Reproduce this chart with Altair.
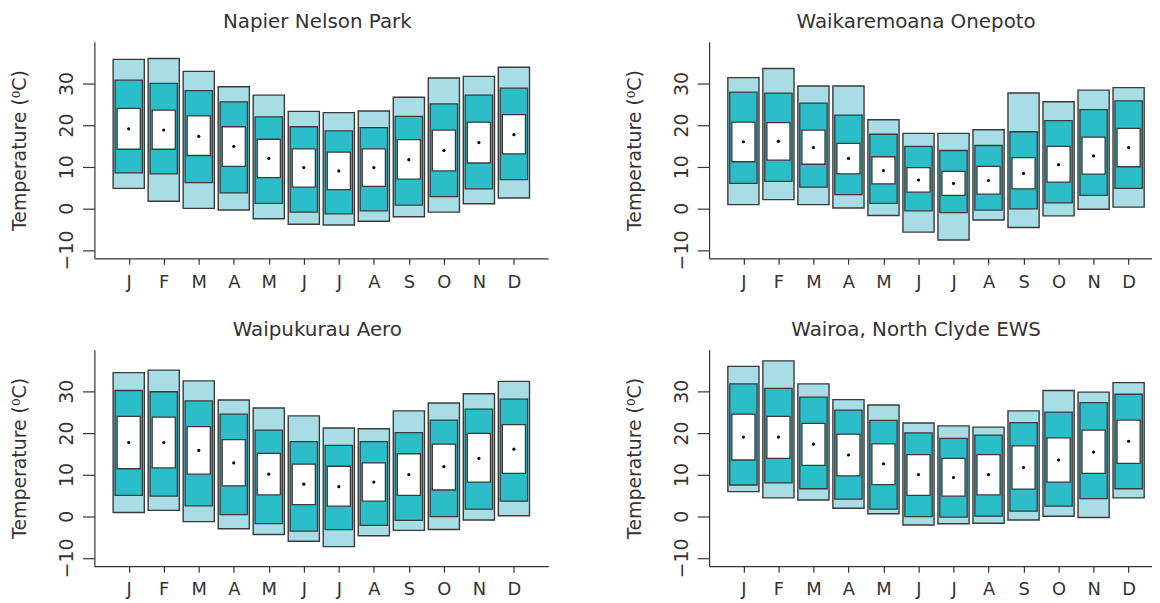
import altair as alt
import pandas as pd

MONTHS = ["J", "F", "M", "A", "M", "J", "J", "A", "S", "O", "N", "D"]
MONTH_POS = list(range(1, 13))
Y_TICKS = [-10, 0, 10, 20, 30]
Y_TITLE = "Temperature (\u2070C)"

# Napier Nelson Park
napier_max = [35.8, 36.0, 32.9, 29.2, 27.2, 23.3, 23.0, 23.4, 26.7, 31.3, 31.7, 33.9]
napier_min = [4.8, 1.7, 0.0, -0.4, -2.5, -3.8, -4.0, -3.1, -2.0, -0.9, 1.1, 2.5]
napier_phi = [30.8, 30.0, 28.3, 25.6, 22.0, 19.6, 18.6, 19.4, 22.1, 25.1, 27.2, 28.9]
napier_plo = [8.5, 8.3, 6.2, 3.7, 1.2, -0.9, -1.3, -0.6, 0.8, 2.8, 4.7, 6.9]
napier_qhi = [24.0, 23.6, 22.2, 19.6, 16.6, 14.3, 13.5, 14.3, 16.5, 18.8, 20.7, 22.5]
napier_qlo = [14.2, 14.2, 12.7, 10.1, 7.4, 5.1, 4.5, 5.3, 7.0, 9.0, 10.9, 13.1]
napier_mean = [19.1, 18.8, 17.3, 14.9, 12.0, 9.8, 9.0, 9.8, 11.7, 13.9, 15.8, 17.7]

# Waikaremoana Onepoto
waika_max = [31.4, 33.6, 29.4, 29.4, 21.3, 18.0, 18.0, 18.9, 27.7, 25.6, 28.4, 29.0]
waika_min = [0.9, 2.1, 0.9, 0.1, -1.7, -5.7, -7.6, -2.8, -4.6, -1.8, -0.2, 0.3]
waika_phi = [27.9, 27.7, 25.3, 22.4, 17.8, 14.9, 13.9, 15.1, 18.4, 21.1, 23.7, 25.8]
waika_plo = [6.0, 6.5, 5.1, 3.3, 1.2, -0.6, -1.0, -0.4, -0.1, 1.3, 3.1, 4.8]
waika_qhi = [20.7, 20.6, 18.8, 15.6, 12.4, 9.8, 8.9, 10.1, 12.2, 14.9, 17.1, 19.2]
waika_qlo = [11.2, 11.6, 10.6, 8.3, 5.9, 3.9, 3.1, 3.4, 4.7, 6.3, 8.2, 10.0]
waika_mean = [16.0, 16.1, 14.6, 12.0, 9.1, 6.8, 6.0, 6.7, 8.4, 10.5, 12.6, 14.6]

# Waipukurau Aero
waipu_max = [34.5, 35.1, 32.5, 27.9, 26.0, 24.1, 21.2, 21.0, 25.3, 27.2, 29.4, 32.4]
waipu_min = [0.9, 1.4, -1.3, -3.0, -4.4, -6.0, -7.3, -4.7, -3.4, -3.2, -0.9, 0.1]
waipu_phi = [30.2, 29.9, 27.7, 24.5, 20.7, 17.9, 17.0, 17.9, 20.1, 23.1, 25.7, 28.1]
waipu_plo = [5.0, 4.8, 2.5, 0.4, -1.8, -3.6, -3.2, -2.2, -1.0, -0.1, 1.7, 3.6]
waipu_qhi = [24.0, 23.8, 21.5, 18.4, 15.1, 12.5, 12.0, 12.8, 15.0, 17.3, 19.9, 22.0]
waipu_qlo = [11.4, 11.6, 10.1, 7.3, 5.1, 2.8, 2.4, 3.6, 5.0, 6.3, 8.2, 10.3]
waipu_mean = [17.7, 17.7, 15.8, 12.8, 10.1, 7.7, 7.1, 8.2, 10.0, 11.9, 13.9, 16.1]

# Wairoa, North Clyde EWS
wairoa_max = [36.0, 37.3, 31.8, 28.0, 26.7, 22.4, 21.7, 21.4, 25.3, 30.2, 29.8, 32.1]
wairoa_min = [5.9, 4.4, 3.9, 1.9, 0.6, -2.1, -1.8, -1.7, -0.9, 0.0, -0.3, 4.4]
wairoa_phi = [31.8, 30.7, 28.6, 25.5, 23.0, 20.0, 18.7, 19.5, 22.5, 25.0, 27.3, 29.3]
wairoa_plo = [7.5, 8.0, 6.6, 4.1, 1.7, -0.1, -0.2, 0.0, 1.2, 2.4, 4.2, 6.6]
wairoa_qhi = [24.5, 24.0, 22.3, 19.7, 17.4, 14.8, 13.9, 14.8, 16.9, 18.8, 20.7, 23.1]
wairoa_qlo = [13.5, 13.9, 12.2, 9.7, 7.6, 5.0, 4.8, 5.1, 6.5, 8.2, 10.3, 12.7]
wairoa_mean = [19.0, 19.0, 17.3, 14.7, 12.6, 10.0, 9.3, 10.0, 11.7, 13.5, 15.4, 18.0]

FONT = "DejaVu Sans"
TXT = "#333333"
LIGHT = "#A9DDE6"
TEAL = "#2CBEC8"
EDGE = "#3a3a3a"

W, H = 457, 218
X_DOM = [0.02, 12.98]
Y_DOM = [-12, 40]

label_expr = "[" + ",".join("'%s'" % m for m in MONTHS) + "][datum.value - 1]"

xaxis = alt.Axis(values=MONTH_POS, labelExpr=label_expr, title=None, grid=False,
                 tickSize=6, tickWidth=1.2, tickColor=TXT, domainColor=TXT, domainWidth=1.2,
                 labelPadding=9, labelAngle=0, labelFont=FONT, labelFontSize=18,
                 labelColor=TXT, labelFlush=False, labelOverlap=False)
yaxis = alt.Axis(values=Y_TICKS, title=Y_TITLE, grid=False,
                 tickSize=12, tickWidth=1.2, tickColor=TXT, domainColor=TXT, domainWidth=1.2,
                 labelAngle=-90, labelAlign="center", labelBaseline="alphabetic",
                 labelPadding=10, labelFont=FONT, labelFontSize=19, labelColor=TXT,
                 labelFlush=False, labelOverlap=False,
                 titleFont=FONT, titleFontSize=19, titleFontWeight="normal", titleColor=TXT,
                 titleAngle=-90, titleAlign="center", titleBaseline="alphabetic",
                 titleX=-69, titleY=H / 2)


def panel(name, mx, mn, phi, plo, qhi, qlo, mean, shift):
    df = pd.DataFrame({"month": MONTH_POS, "mx": mx, "mn": mn, "phi": phi,
                       "plo": plo, "qhi": qhi, "qlo": qlo, "mean": mean})
    xs = alt.Scale(domain=X_DOM, nice=False, zero=False)
    ys = alt.Scale(domain=Y_DOM, nice=False, zero=False)
    base = alt.Chart(df)

    def box(hw, lo, hi, fill, sw):
        return base.transform_calculate(
            xl="datum.month - %s" % hw, xr="datum.month + %s" % hw
        ).mark_rect(fill=fill, stroke=EDGE, strokeWidth=sw).encode(
            x=alt.X("xl:Q", scale=xs, axis=xaxis),
            x2="xr:Q",
            y=alt.Y(lo + ":Q", scale=ys, axis=yaxis),
            y2=hi + ":Q",
        )

    outer = box(0.445, "mn", "mx", LIGHT, 1.4)
    mid = box(0.39, "plo", "phi", TEAL, 1.3)
    inner = box(0.33, "qlo", "qhi", "white", 1.3)
    dot = base.mark_circle(size=10, color="black", opacity=1).encode(
        x=alt.X("month:Q", scale=xs, axis=xaxis),
        y=alt.Y("mean:Q", scale=ys, axis=yaxis),
    )
    return alt.layer(outer, mid, inner, dot).properties(
        width=W, height=H,
        title=alt.TitleParams(name, font=FONT, fontSize=20, fontWeight="normal",
                              color=TXT, offset=14, dy=20, dx=shift,
                              baseline="alphabetic", anchor="middle"),
    )


p1 = panel("Napier Nelson Park", napier_max, napier_min, napier_phi, napier_plo,
           napier_qhi, napier_qlo, napier_mean, -4)
p2 = panel("Waikaremoana Onepoto", waika_max, waika_min, waika_phi, waika_plo,
           waika_qhi, waika_qlo, waika_mean, -20)
p3 = panel("Waipukurau Aero", waipu_max, waipu_min, waipu_phi, waipu_plo,
           waipu_qhi, waipu_qlo, waipu_mean, -4)
p4 = panel("Wairoa, North Clyde EWS", wairoa_max, wairoa_min, wairoa_phi, wairoa_plo,
           wairoa_qhi, wairoa_qlo, wairoa_mean, -20)

top = alt.hconcat(p1, p2, spacing=162, bounds="flush")
bottom = alt.hconcat(p3, p4, spacing=162, bounds="flush")
chart = alt.vconcat(top, bottom, spacing=29).properties(
    padding={"left": 2, "top": 2, "right": -11, "bottom": 0},
    background="white",
).configure_view(strokeOpacity=0)

chart.save("out.html", embed_options={"renderer": "svg", "actions": False})
